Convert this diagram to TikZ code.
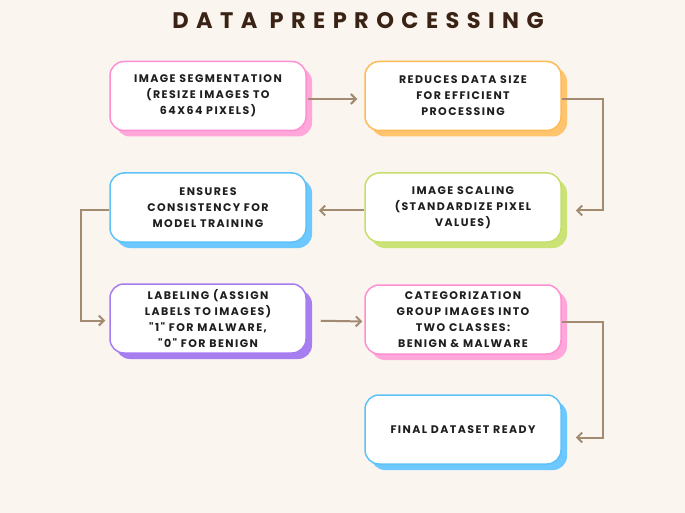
\documentclass[tikz,border=0pt]{standalone}
\usepackage{fontspec}
\setmainfont{Poppins}
\newfontfamily\titlefont{Poppins}[LetterSpace=33]
\newfontfamily\boxfont{Poppins}[LetterSpace=13]
\usetikzlibrary{arrows.meta,shadows}
\definecolor{bg}{HTML}{FAF5EF}
\definecolor{arrowc}{HTML}{A38B72}
\definecolor{titlec}{HTML}{3A2314}
\definecolor{txt}{HTML}{1E1E1E}
\definecolor{pinkB}{HTML}{FF8FD3}\definecolor{pinkS}{HTML}{FFA6DA}
\definecolor{orB}{HTML}{FFB955}\definecolor{orS}{HTML}{FFC46E}
\definecolor{grB}{HTML}{C6DE6C}\definecolor{grS}{HTML}{CBE276}
\definecolor{blB}{HTML}{5EC2F8}\definecolor{blS}{HTML}{6CC8FF}
\definecolor{puB}{HTML}{A67CF2}\definecolor{puS}{HTML}{A67EF0}
\tikzset{
  box/.style 2 args={rectangle, rounded corners=14pt, minimum width=196pt, minimum height=69pt,
    align=center, fill=white, draw=#1, line width=1.5pt, text=txt,
    font=\boxfont\bfseries\fontsize{11}{16}\selectfont,
    drop shadow={shadow xshift=6pt, shadow yshift=-6pt, fill=#2, opacity=1}},
  arr/.style={draw=arrowc, line width=2pt, -{Straight Barb[length=5pt,width=10pt]}}
}
\begin{document}
\begin{tikzpicture}[x=1pt,y=-1pt]
\fill[bg] (0,0) rectangle (685,513);
\useasboundingbox (0,0) rectangle (685,513);
\node[text=titlec, font=\titlefont\bfseries\fontsize{22.5}{26}\selectfont] (title) at (358,21) {DATA PREPROCESSING};
\node[box={pinkB}{pinkS}] (b1) at (208,96) {IMAGE SEGMENTATION\\(RESIZE IMAGES TO\\64X64 PIXELS)};
\node[box={orB}{orS}] (b2) at (463,96) {REDUCES DATA SIZE\\FOR EFFICIENT\\PROCESSING};
\node[box={grB}{grS}] (b3) at (463,207.5) {IMAGE SCALING\\(STANDARDIZE PIXEL\\VALUES)};
\node[box={blB}{blS}] (b4) at (208,207.5) {ENSURES\\CONSISTENCY FOR\\MODEL TRAINING};
\node[box={puB}{puS}] (b5) at (208,318.5) {LABELING (ASSIGN\\LABELS TO IMAGES)\\"1" FOR MALWARE,\\"0" FOR BENIGN};
\node[box={pinkB}{pinkS}] (b6) at (463,319.5) {CATEGORIZATION\\GROUP IMAGES INTO\\TWO CLASSES:\\BENIGN \& MALWARE};
\node[box={blB}{blS}] (b7) at (463,429.5) {FINAL DATASET READY};
\draw[arr, shorten <=1pt, shorten >=7pt] ([yshift=-3pt]b1.east) -- ([yshift=-3pt]b2.west);
\draw[arr] ([yshift=-3pt]b2.east) -- ++(41,0) |- ([xshift=14pt,yshift=-3pt]b3.east);
\draw[arr, shorten >=12pt] ([yshift=-3pt]b3.west) -- ([yshift=-3pt]b4.east);
\draw[arr] ([yshift=-3pt]b4.west) -- ++(-28,0) |- ([xshift=-4pt,yshift=-2pt]b5.west);
\draw[arr, shorten <=14pt, shorten >=2pt] ([yshift=-2pt]b5.east) -- ([yshift=-2pt]b6.west);
\draw[arr] ([yshift=-2pt]b6.east) -- ++(41,0) |- ([xshift=14pt,yshift=-8pt]b7.east);
\end{tikzpicture}
\end{document}
